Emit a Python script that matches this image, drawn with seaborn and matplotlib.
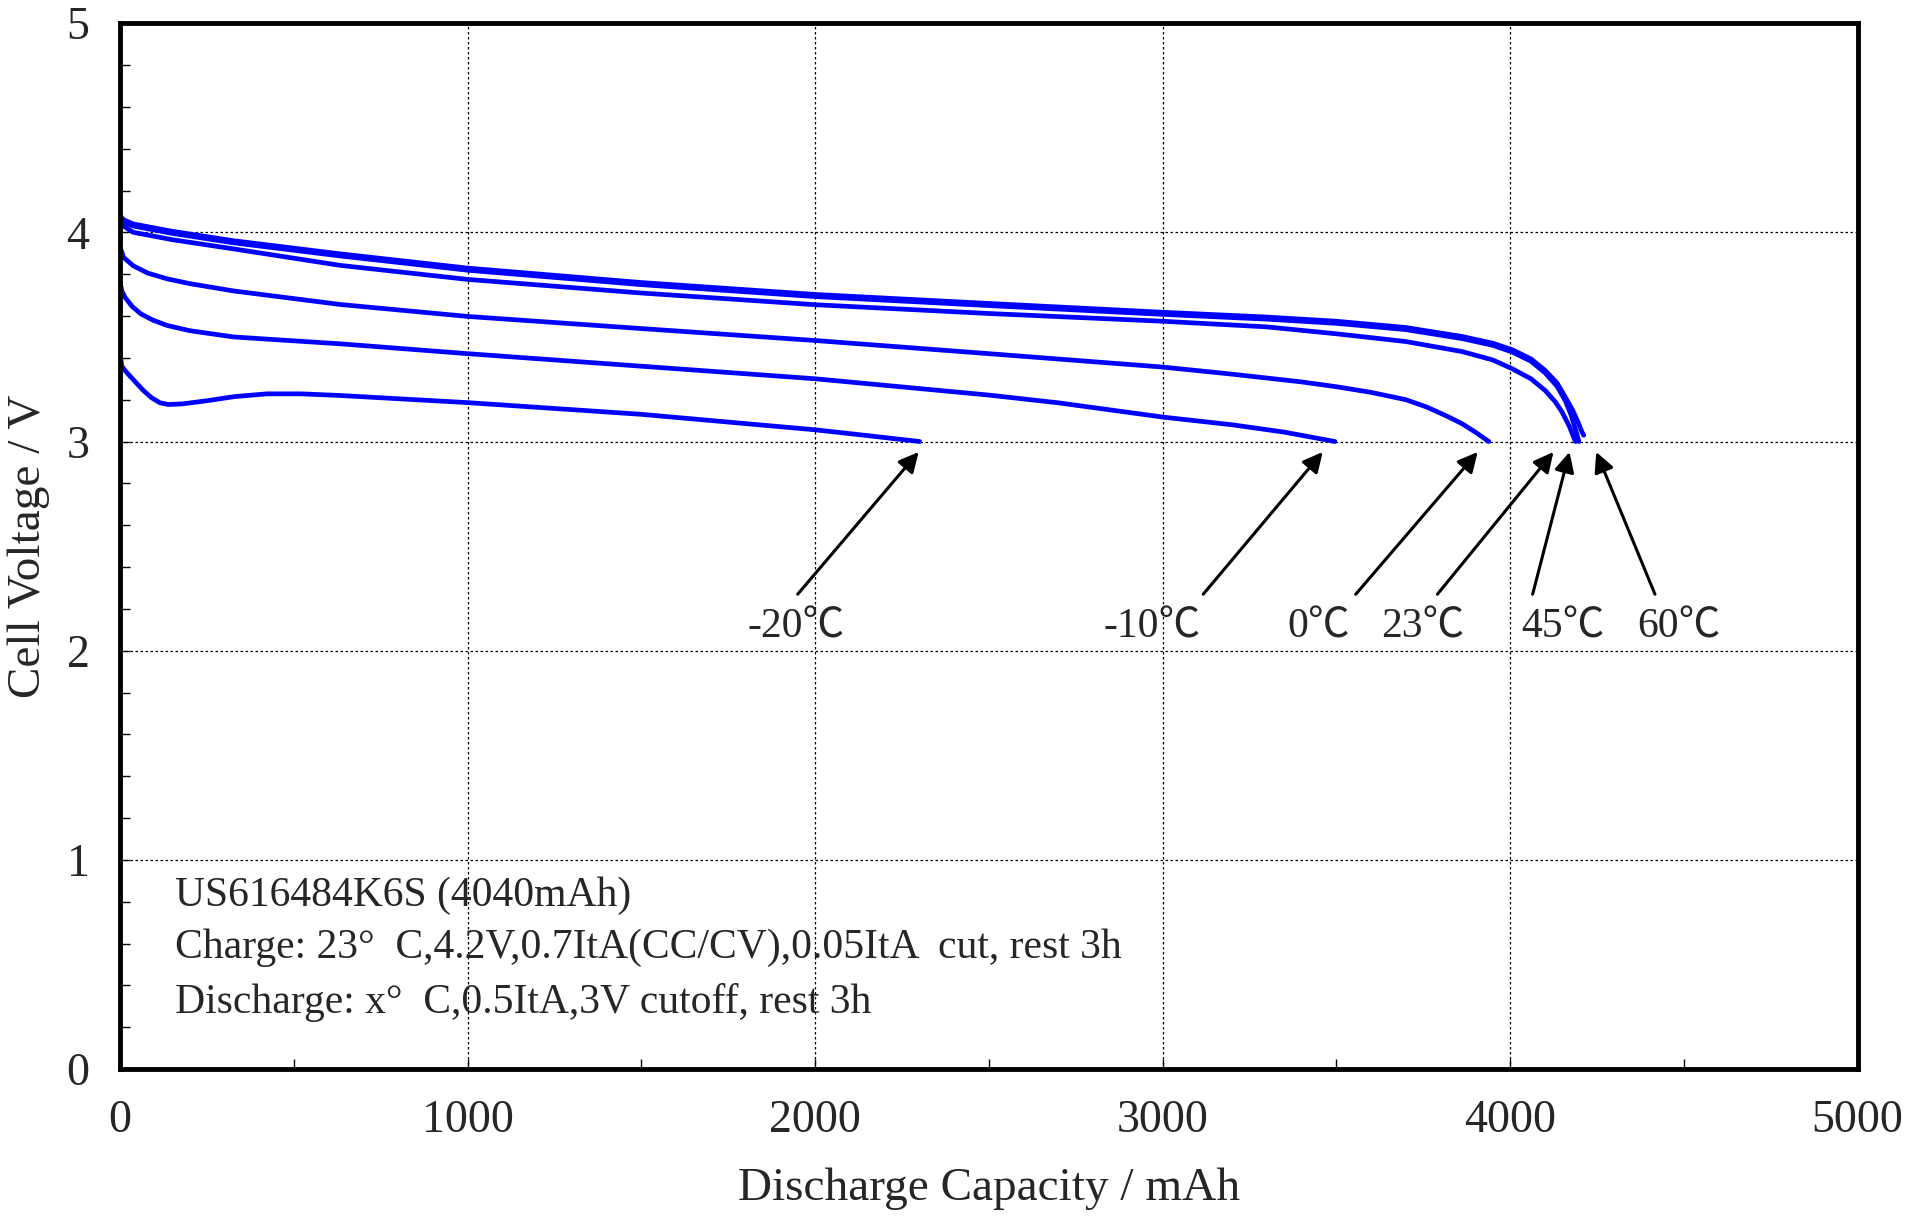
import numpy as np
import pandas as pd
import seaborn as sns
import matplotlib.pyplot as plt
from matplotlib.ticker import MultipleLocator

sns.set_style("white")
plt.rcParams['font.family'] = ['Liberation Serif', 'Noto Sans CJK JP', 'DejaVu Serif']

# discharge curves (capacity mAh, voltage V)
cap_60 = [0, 10, 38, 150, 326, 634, 1000, 1500, 2000, 2500, 3000, 3300, 3500, 3700, 3862, 3950, 4006,
          4060, 4101, 4135, 4159, 4180, 4195, 4207, 4212]
v_60 = [4.08, 4.06, 4.04, 4.005, 3.96, 3.897, 3.829, 3.76, 3.703, 3.66, 3.618, 3.595, 3.575, 3.545, 3.502,
        3.47, 3.439, 3.395, 3.34, 3.28, 3.212, 3.15, 3.095, 3.045, 3.03]

cap_45 = [0, 10, 38, 150, 326, 634, 1000, 1500, 2000, 2500, 3000, 3300, 3500, 3700, 3862, 3950, 4006,
          4060, 4101, 4135, 4159, 4175, 4188, 4198]
v_45 = [4.07, 4.05, 4.03, 3.995, 3.95, 3.887, 3.819, 3.75, 3.693, 3.65, 3.608, 3.585, 3.565, 3.535, 3.492,
        3.46, 3.428, 3.384, 3.328, 3.265, 3.195, 3.13, 3.06, 3.0]

cap_23 = [0, 10, 38, 150, 326, 634, 1000, 1500, 2000, 2500, 3000, 3300, 3500, 3700, 3862, 3950, 4006,
          4060, 4101, 4130, 4150, 4170, 4188]
v_23 = [4.06, 4.03, 4.0, 3.965, 3.921, 3.842, 3.775, 3.71, 3.654, 3.612, 3.575, 3.548, 3.515, 3.478, 3.43,
        3.39, 3.348, 3.30, 3.244, 3.19, 3.14, 3.075, 3.0]

cap_0 = [0, 10, 38, 80, 135, 200, 326, 634, 1000, 1500, 2000, 2500, 3000, 3200, 3400, 3500, 3600, 3700,
         3760, 3820, 3862, 3900, 3939]
v_0 = [3.93, 3.88, 3.84, 3.805, 3.778, 3.755, 3.72, 3.655, 3.598, 3.54, 3.483, 3.42, 3.356, 3.322, 3.285,
       3.262, 3.235, 3.2, 3.165, 3.12, 3.085, 3.045, 3.0]

cap_m10 = [0, 5, 14, 35, 60, 95, 135, 200, 326, 634, 1000, 1500, 2000, 2500, 2700, 3000, 3200, 3350,
           3496]
v_m10 = [3.76, 3.72, 3.69, 3.645, 3.61, 3.58, 3.555, 3.53, 3.50, 3.467, 3.42, 3.36, 3.30, 3.222, 3.185,
         3.117, 3.08, 3.045, 3.0]

cap_m20 = [0, 5, 14, 30, 67, 90, 115, 139, 180, 250, 330, 423, 520, 634, 1000, 1500, 2000, 2104, 2301]
v_m20 = [3.42, 3.36, 3.34, 3.31, 3.244, 3.21, 3.185, 3.177, 3.18, 3.195, 3.215, 3.228, 3.228, 3.22,
         3.186, 3.13, 3.056, 3.037, 3.0]

temps = ['60℃', '45℃', '23℃', '0℃', '-10℃', '-20℃']
caps = [cap_60, cap_45, cap_23, cap_0, cap_m10, cap_m20]
volts = [v_60, v_45, v_23, v_0, v_m10, v_m20]

# label text position and arrow tail / head (mAh, V)
label_x = [4487, 4153, 3749, 3450, 2969, 1946]
label_y = 2.11
tail_x = [4417, 4065, 3791, 3556, 3117, 1950]
head_x = [4248, 4171, 4125, 3907, 3461, 2298]
tail_y = 2.27
head_y = 2.95

note_lines = ["US616484K6S (4040mAh)",
              "Charge: 23°  C,4.2V,0.7ItA(CC/CV),0.05ItA  cut, rest 3h",
              "Discharge: x°  C,0.5ItA,3V cutoff, rest 3h"]
note_y = [0.83, 0.58, 0.32]

fig = plt.figure(figsize=(19.15, 12.19), dpi=100)
ax = fig.add_axes([0.0627, 0.123, 0.9073, 0.858])

for t, c, v in zip(temps, caps, volts):
    sns.lineplot(x=c, y=v, ax=ax, color='#0000FF', linewidth=3.4, sort=False, estimator=None)

for t, lx, tx, hx in zip(temps, label_x, tail_x, head_x):
    ax.annotate('', xy=(hx, head_y), xytext=(tx, tail_y),
                arrowprops=dict(arrowstyle='-|>', color='black', lw=2.2, mutation_scale=30,
                                shrinkA=0, shrinkB=0))
    ax.text(lx, label_y, t, fontsize=30, ha='center', va='center')

for s, yy in zip(note_lines, note_y):
    ax.text(158, yy, s, fontsize=30, ha='left', va='center')

ax.set_xlim(0, 5000)
ax.set_ylim(0, 5)
ax.xaxis.set_major_locator(MultipleLocator(1000))
ax.xaxis.set_minor_locator(MultipleLocator(500))
ax.yaxis.set_major_locator(MultipleLocator(1))
ax.yaxis.set_minor_locator(MultipleLocator(0.2))
ax.grid(True, which='major', color='black', linestyle=(0, (2, 2)), linewidth=0.9)
ax.tick_params(which='both', direction='in', bottom=True, left=True, top=False, right=False,
               color='black', width=1.0)
ax.tick_params(which='major', length=7, labelsize=33, pad=22)
ax.tick_params(which='minor', length=7)

for sp in ax.spines.values():
    sp.set_linewidth(3.5)
    sp.set_color('black')

ax.set_xlabel('Discharge Capacity / mAh', fontsize=34, labelpad=18)
ax.set_ylabel('Cell Voltage / V', fontsize=34, labelpad=12)

fig.savefig('out.png', dpi=100)
